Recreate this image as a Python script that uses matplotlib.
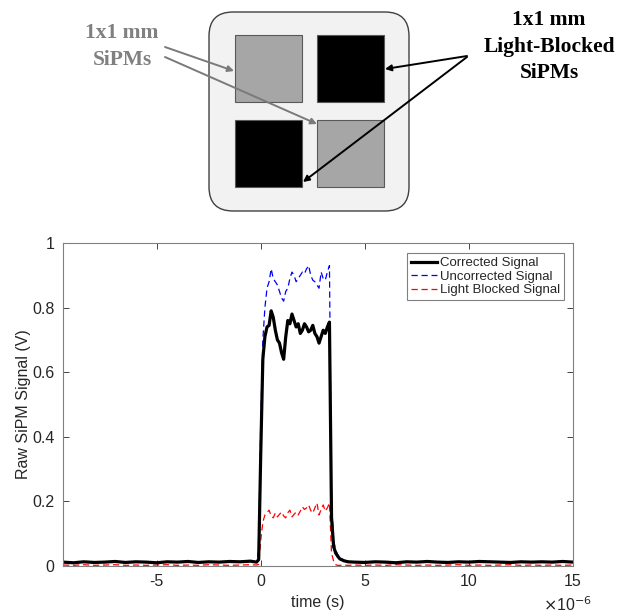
import matplotlib.pyplot as plt
from matplotlib.patches import FancyBboxPatch, Rectangle

# sample times in microseconds
time_us = [
    -9.5, -9.0, -8.5, -8.0, -7.5, -7.0, -6.5, -6.0, -5.5, -5.0,
    -4.5, -4.0, -3.5, -3.0, -2.5, -2.0, -1.5, -1.0, -0.5, -0.2,
    -0.1, 0.0, 0.1, 0.2, 0.3, 0.4, 0.5, 0.6, 0.7, 0.8,
    0.9, 1.0, 1.1, 1.2, 1.3, 1.4, 1.5, 1.6, 1.7, 1.8,
    1.9, 2.0, 2.1, 2.2, 2.3, 2.4, 2.5, 2.6, 2.7, 2.8,
    2.9, 3.0, 3.1, 3.2, 3.3, 3.4, 3.5, 3.6, 3.7, 3.8,
    4.0, 4.2, 4.5, 5.0, 5.5, 6.0, 6.5, 7.0, 7.5, 8.0,
    8.5, 9.0, 9.5, 10.0, 10.5, 11.0, 11.5, 12.0, 12.5, 13.0,
    13.5, 14.0, 14.5, 15.0,
]

corrected = [
    0.012, 0.010, 0.013, 0.011, 0.012, 0.014, 0.011, 0.013, 0.012, 0.010,
    0.013, 0.012, 0.014, 0.011, 0.013, 0.012, 0.014, 0.013, 0.015, 0.012,
    0.020, 0.350, 0.640, 0.710, 0.740, 0.745, 0.790, 0.770, 0.730, 0.700,
    0.690, 0.660, 0.640, 0.710, 0.760, 0.750, 0.780, 0.760, 0.740, 0.750,
    0.720, 0.730, 0.750, 0.740, 0.725, 0.730, 0.745, 0.720, 0.710, 0.690,
    0.710, 0.730, 0.720, 0.740, 0.755, 0.150, 0.060, 0.040, 0.030, 0.022,
    0.016, 0.013, 0.012, 0.011, 0.013, 0.012, 0.010, 0.013, 0.012, 0.014,
    0.012, 0.011, 0.013, 0.012, 0.014, 0.013, 0.012, 0.011, 0.013, 0.012,
    0.013, 0.012, 0.014, 0.012,
]

uncorrected = [
    0.011, 0.010, 0.012, 0.010, 0.011, 0.013, 0.010, 0.012, 0.011, 0.010,
    0.012, 0.011, 0.013, 0.010, 0.012, 0.011, 0.013, 0.012, 0.014, 0.011,
    0.050, 0.450, 0.700, 0.800, 0.860, 0.880, 0.920, 0.890, 0.880, 0.870,
    0.850, 0.830, 0.820, 0.850, 0.860, 0.890, 0.910, 0.900, 0.880, 0.890,
    0.900, 0.910, 0.905, 0.920, 0.930, 0.900, 0.885, 0.880, 0.870, 0.860,
    0.910, 0.890, 0.885, 0.910, 0.930, 0.200, 0.080, 0.050, 0.035, 0.026,
    0.018, 0.014, 0.012, 0.011, 0.012, 0.011, 0.010, 0.012, 0.011, 0.013,
    0.011, 0.010, 0.012, 0.011, 0.013, 0.012, 0.011, 0.010, 0.012, 0.011,
    0.012, 0.011, 0.013, 0.011,
]

light_blocked = [
    0.003, 0.002, 0.004, 0.002, 0.003, 0.004, 0.002, 0.003, 0.002, 0.003,
    0.004, 0.002, 0.003, 0.002, 0.004, 0.003, 0.002, 0.003, 0.004, 0.003,
    0.005, 0.080, 0.136, 0.158, 0.165, 0.173, 0.155, 0.149, 0.164, 0.152,
    0.160, 0.167, 0.155, 0.149, 0.165, 0.173, 0.152, 0.160, 0.167, 0.158,
    0.170, 0.183, 0.175, 0.180, 0.189, 0.172, 0.164, 0.180, 0.195, 0.158,
    0.175, 0.189, 0.170, 0.180, 0.195, 0.040, 0.015, 0.004, 0.002, 0.002,
    0.003, 0.002, 0.003, 0.002, 0.003, 0.002, 0.004, 0.003, 0.002, 0.003,
    0.002, 0.003, 0.004, 0.002, 0.003, 0.002, 0.003, 0.004, 0.002, 0.003,
    0.002, 0.003, 0.002, 0.003,
]

y_ticks = [0, 0.2, 0.4, 0.6, 0.8, 1]
x_ticks = [-5, 0, 5, 10, 15]

axis_gray = '#262626'
plt.rcParams['font.family'] = ['Liberation Sans', 'DejaVu Sans']

fig = plt.figure(figsize=(6.17, 6.16), dpi=100)

# ---- sensor layout sketch (pixel coordinates) ----
sk = fig.add_axes([0, 1 - 220 / 616, 1, 220 / 616])
sk.set_xlim(0, 617)
sk.set_ylim(220, 0)
sk.axis('off')

sk.add_patch(FancyBboxPatch((209, 12), 200, 199,
                            boxstyle='round,pad=0,rounding_size=24',
                            fc='#f2f2f2', ec='#404040', lw=1.0))
for (x0, y0, fc) in [(235, 35, '#a6a6a6'), (317, 35, 'black'),
                     (235, 120, 'black'), (317, 120, '#a6a6a6')]:
    sk.add_patch(Rectangle((x0, y0), 67, 67, fc=fc, ec='#595959', lw=0.8))

serif = ['Liberation Serif', 'DejaVu Serif']
sk.text(122, 33, '1x1 mm', ha='center', va='center', fontsize=15.5,
        fontweight='bold', color='#808080', family=serif)
sk.text(122, 60, 'SiPMs', ha='center', va='center', fontsize=15.5,
        fontweight='bold', color='#808080', family=serif)
for yy, s in [(20, '1x1 mm'), (47, 'Light-Blocked'), (73, 'SiPMs')]:
    sk.text(549, yy, s, ha='center', va='center', fontsize=15.5,
            fontweight='bold', color='black', family=serif)

gray_arrow = dict(arrowstyle='-|>', color='#7a7a7a', lw=1.4,
                  mutation_scale=9, shrinkA=0, shrinkB=0)
black_arrow = dict(arrowstyle='-|>', color='black', lw=1.4,
                   mutation_scale=9, shrinkA=0, shrinkB=0)
sk.annotate('', xy=(234, 71), xytext=(165, 47), arrowprops=gray_arrow)
sk.annotate('', xy=(317, 124), xytext=(165, 57), arrowprops=gray_arrow)
sk.annotate('', xy=(385, 69), xytext=(467, 56), arrowprops=black_arrow)
sk.annotate('', xy=(303, 182), xytext=(467, 57), arrowprops=black_arrow)

# ---- signal traces ----
ax = fig.add_axes([63 / 617, 50 / 616, 510 / 617, 323 / 616])
l_unc, = ax.plot(time_us, uncorrected, '--', color='blue', lw=0.9,
                 dashes=(5, 3))
l_lb, = ax.plot(time_us, light_blocked, '--', color='red', lw=0.9,
                dashes=(5, 3))
l_cor, = ax.plot(time_us, corrected, '-', color='black', lw=2.3)

ax.set_xlim(-9.5, 15)
ax.set_ylim(0, 1)
ax.set_xticks(x_ticks)
ax.set_xticklabels([str(v) for v in x_ticks])
ax.set_yticks(y_ticks)
ax.set_yticklabels([f'{v:g}' for v in y_ticks])
ax.tick_params(direction='in', top=True, right=True, length=4,
               width=0.6, color=axis_gray, labelcolor=axis_gray,
               labelsize=11.5, pad=6)
for sp in ax.spines.values():
    sp.set_color('#808080')
    sp.set_linewidth(0.8)

ax.set_xlabel('time (s)', fontsize=11.5, color=axis_gray, labelpad=4)
ax.set_ylabel('Raw SiPM Signal (V)', fontsize=11.5, color=axis_gray,
              labelpad=1)
fig.text(592 / 617, 1 - 611 / 616, r'$\times$10$^{-6}$', ha='right',
         va='baseline', fontsize=11.5, color=axis_gray)

leg = ax.legend([l_cor, l_unc, l_lb],
                ['Corrected Signal', 'Uncorrected Signal', 'Light Blocked Signal'],
                loc='upper right', bbox_to_anchor=(564 / 617, 1 - 253 / 616),
                bbox_transform=fig.transFigure, fontsize=9.5, frameon=True,
                fancybox=False, edgecolor='#808080', framealpha=1,
                borderpad=0.3, handlelength=2.0, handletextpad=0.2,
                labelspacing=0.1, borderaxespad=0)
leg.get_frame().set_linewidth(0.8)
for t in leg.get_texts():
    t.set_color(axis_gray)

fig.savefig('out.png', dpi=100)
